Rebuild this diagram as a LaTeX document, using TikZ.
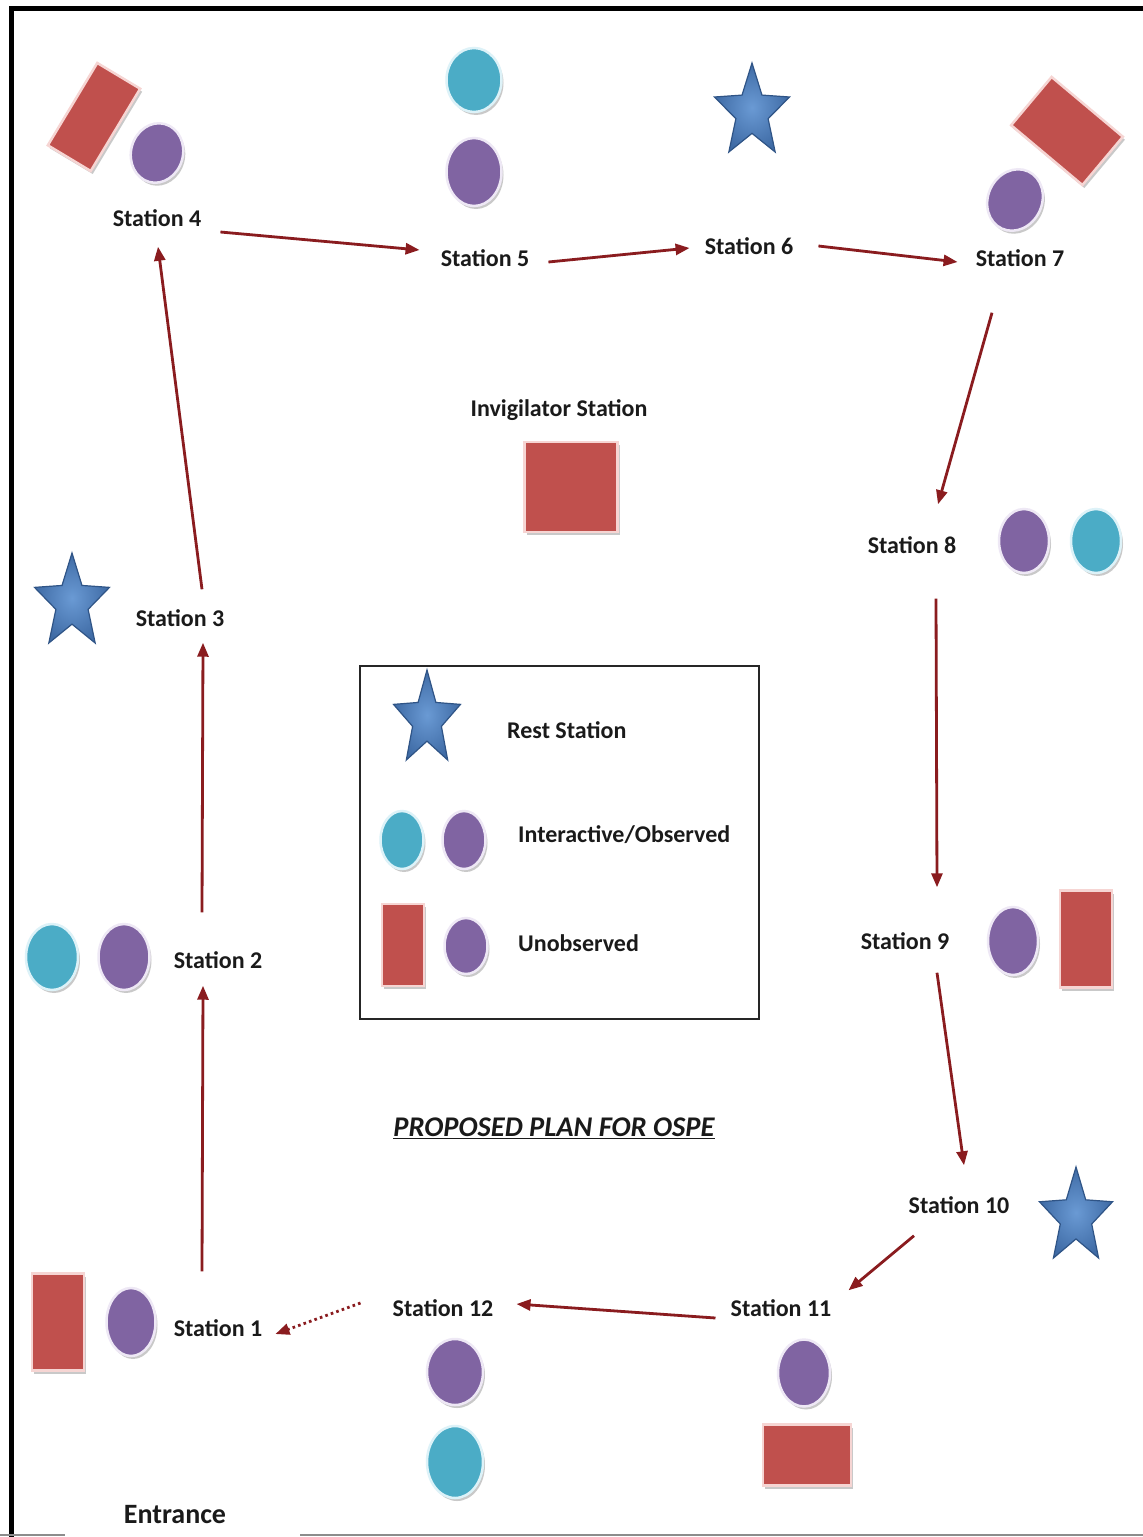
\documentclass[tikz,border=0pt]{standalone}
\usepackage{fontspec}
\setmainfont{Carlito}
\usetikzlibrary{shapes.geometric,shadows,arrows.meta}
\definecolor{ored}{HTML}{C0504D}
\definecolor{oredb}{HTML}{F6D5D3}
\definecolor{opur}{HTML}{8064A2}
\definecolor{opurb}{HTML}{EEE8F5}
\definecolor{ocyan}{HTML}{4BACC6}
\definecolor{ocyanb}{HTML}{DDF2F8}
\definecolor{obluein}{HTML}{6A9AD4}
\definecolor{oblueout}{HTML}{3F6BA5}
\definecolor{obluedk}{HTML}{2F5486}
\definecolor{arrred}{HTML}{8A1C1F}
\definecolor{txt}{HTML}{1A1A1A}
\begin{document}
\begin{tikzpicture}[x=1pt,y=-1pt,
  lbl/.style={font=\fontsize{24}{28}\selectfont\bfseries, text=txt, inner sep=0pt},
  sz/.style 2 args={minimum width=#1, minimum height=#2},
  shad/.style={drop shadow={shadow xshift=2pt, shadow yshift=-3pt, opacity=0.35, fill=black!60}},
  oval/.style={ellipse, inner sep=0pt, line width=2.5pt, shad},
  purpov/.style={oval, fill=opur, draw=opurb},
  cyanov/.style={oval, fill=ocyan, draw=ocyanb},
  redbox/.style={rectangle, inner sep=0pt, fill=ored, draw=oredb, line width=2.5pt, shad},
  arr/.style={draw=arrred, line width=2.8pt, -{Triangle[length=14pt,width=11pt]}},
  arrd/.style={arr, dash pattern=on 2.6pt off 3.2pt},
  ostar/.pic={
    \path[inner color=obluein, outer color=oblueout, draw=obluedk, line width=1.2pt, line join=miter]
      (90:1pt) -- (126:0.43pt) -- (162:1pt) -- (198:0.43pt) -- (234:1pt) -- (270:0.43pt)
      -- (306:1pt) -- (342:0.43pt) -- (18:1pt) -- (54:0.43pt) -- cycle;
  }
]
\useasboundingbox (0,0) rectangle (1143,1537);
\fill[white] (0,0) rectangle (1143,1537);

% frame
\draw[line width=5pt, black] (11.5,1537) -- (11.5,8.5) -- (1143,8.5);
\draw[line width=2pt, black!45] (0,1535) -- (65,1535);
\draw[line width=2pt, black!45] (300,1535) -- (1143,1535);

% station labels
\node[lbl] (s4) at (157,218) {Station 4};
\node[lbl] (s5) at (485,258) {Station 5};
\node[lbl] (s6) at (749,246) {Station 6};
\node[lbl] (s7) at (1020,258) {Station 7};
\node[lbl] (s8) at (912,545) {Station 8};
\node[lbl] (s3) at (180,618) {Station 3};
\node[lbl] (s2) at (218,960) {Station 2};
\node[lbl] (s9) at (905,941) {Station 9};
\node[lbl] (s10) at (959,1205) {Station 10};
\node[lbl] (s11) at (781,1308) {Station 11};
\node[lbl] (s12) at (443,1308) {Station 12};
\node[lbl] (s1) at (218,1328) {Station 1};
\node[lbl] (inv) at (559,410) {Invigilator Station};
\node[lbl, font=\fontsize{28}{32}\selectfont\bfseries] (ent) at (175,1515) {Entrance};
\node[lbl, font=\fontsize{28.5}{32}\selectfont\bfseries\itshape] (title) at (554,1128) {\underline{PROPOSED PLAN FOR OSPE}};

% station 4
\node[redbox, sz={50}{96}, rotate=-31] (r4) at (94,117) {};
\node[purpov, sz={52}{60}, rotate=-15] (p4) at (157,153) {};
% station 5
\node[cyanov, sz={55}{64}] (c5) at (474,80) {};
\node[purpov, sz={55}{68}] (p5) at (474,172) {};
% station 6
\pic[xscale=39.4, yscale=49.2] at (752,112.2) {ostar};
% station 7
\node[redbox, sz={93}{63}, rotate=-40] (r7) at (1067,131) {};
\node[purpov, sz={54}{63}, rotate=-25] (p7) at (1015,200) {};
% station 8
\node[purpov, sz={50}{64}] (p8) at (1024,541) {};
\node[cyanov, sz={50}{64}] (c8) at (1096,541) {};
% station 3
\pic[xscale=39.4, yscale=49.75] at (72,602.75) {ostar};
% station 2
\node[cyanov, sz={52}{66}] (c2) at (52,957) {};
\node[purpov, sz={51}{66}] (p2) at (124,957) {};
% station 9
\node[purpov, sz={50}{68}] (p9) at (1013,941) {};
\node[redbox, sz={52}{97}] (r9) at (1086,939) {};
% station 10
\pic[xscale=38.4, yscale=50.3] at (1076,1217.3) {ostar};
% station 11
\node[purpov, sz={52}{67}] (p11) at (804,1373) {};
\node[redbox, sz={88}{61}] (r11) at (807,1455) {};
% station 12
\node[purpov, sz={56}{66}] (p12) at (455,1372) {};
\node[cyanov, sz={56}{72}] (c12) at (455,1462) {};
% station 1
\node[redbox, sz={52}{97}] (r1) at (58,1322) {};
\node[purpov, sz={49}{68}] (p1) at (131,1322) {};
% invigilator
\node[redbox, sz={93}{90}] (rinv) at (571,487) {};

% legend
\node[draw=black!85, line width=2pt, inner sep=0pt, sz={399}{353}] (legend) at (559.5,842.5) {};
\pic[xscale=35.2, yscale=49.75] at (427,719.75) {ostar};
\node[lbl, anchor=west] (lrest) at (507,730) {Rest Station};
\node[cyanov, sz={43}{58}] (lc) at (402,840) {};
\node[purpov, sz={43}{58}] (lp) at (464,840) {};
\node[lbl, anchor=west] (lint) at (518,835) {Interactive/Observed};
\node[redbox, sz={42}{82}] (lr) at (403,945) {};
\node[purpov, sz={43}{56}] (lp2) at (466,946) {};
\node[lbl, anchor=west] (lun) at (518,943) {Unobserved};

% route arrows
\draw[arr] ([shift={(19,14)}]s4.east) -- ([shift={(-21,-8)}]s5.west);
\draw[arr] ([shift={(19,4)}]s5.east) -- ([shift={(-15,2)}]s6.west);
\draw[arr] ([shift={(25,0)}]s6.east) -- ([shift={(-18,4)}]s7.west);
\draw[arr] ([shift={(-28,46)}]s7.south) -- ([shift={(26,-32)}]s8.north);
\draw[arr] ([shift={(24,45)}]s8.south) -- ([shift={(32,-45)}]s9.north);
\draw[arr] ([shift={(32,23)}]s9.south) -- ([shift={(5,-31)}]s10.north);
\draw[arr] ([shift={(-45,22)}]s10.south) -- ([shift={(17,-9)}]s11.north east);
\draw[arr] ([shift={(-15,10)}]s11.west) -- ([shift={(23,-4)}]s12.east);
\draw[arrd] ([shift={(-32,-5)}]s12.west) -- ([shift={(13,6)}]s1.east);
\draw[arr] ([shift={(-16,-48)}]s1.north) -- ([shift={(-15,17)}]s2.south);
\draw[arr] ([shift={(-16,-39)}]s2.north) -- ([shift={(23,16)}]s3.south);
\draw[arr] ([shift={(22,-20)}]s3.north) -- ([shift={(1,20)}]s4.south);
\end{tikzpicture}
\end{document}
